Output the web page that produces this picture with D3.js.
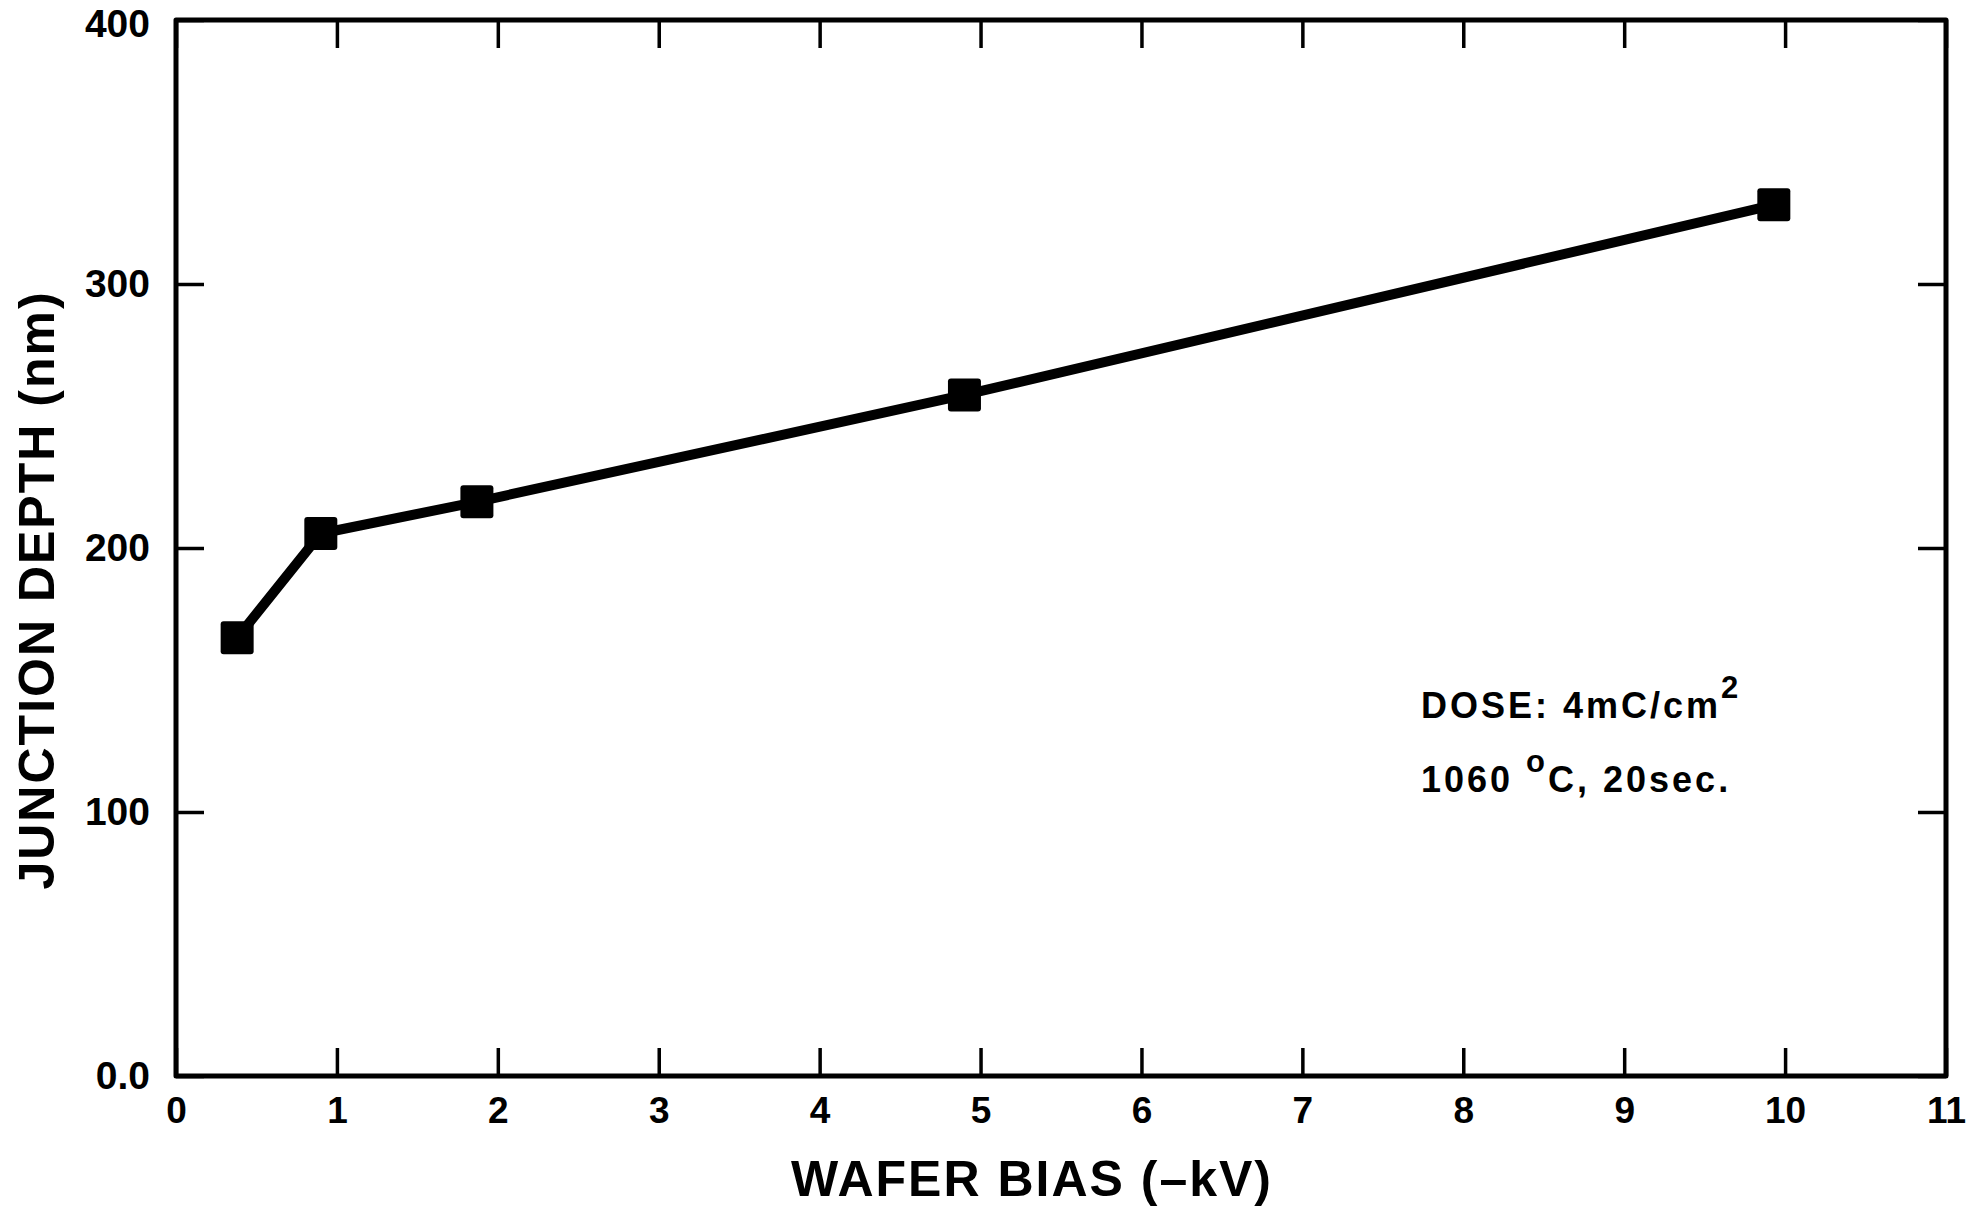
<!DOCTYPE html>
<head>
  <meta charset="utf-8">
  <script src="https://cdn.jsdelivr.net/npm/d3@7"></script>
  <style>
    body { margin: 0; background: #fff; }
    svg { display: block; }
    text { font-family: "Liberation Sans", Arial, Helvetica, sans-serif; font-weight: bold; fill: #000; }
  </style>
</head>
<body>
<svg></svg>
<script>
// values
var biasKV = [0.38, 0.9, 1.87, 4.9, 9.93]
var depthNm = [166, 205.5, 217.5, 258, 330]
var xTicks = d3.range(0, 12)
var yTicks = [0, 100, 200, 300, 400]
var yTickLabels = ['0.0', '100', '200', '300', '400']

var W = 1978, H = 1207
var box = {left: 176, right: 1946, top: 20, bottom: 1076}

var svg = d3.select('svg').attr('width', W).attr('height', H)

var x = d3.scaleLinear().domain([0, 11]).range([box.left, box.right])
var y = d3.scaleLinear().domain([0, 400]).range([box.bottom, box.top])

var tick = 28

// bottom axis with labels
var gx = svg.append('g')
  .attr('transform', 'translate(0,' + box.bottom + ')')
  .call(d3.axisBottom(x).tickValues(xTicks).tickSize(-tick).tickPadding(21).tickFormat(d3.format('d')))
gx.selectAll('text').style('font-size', '37px')

// left axis with labels
var gy = svg.append('g')
  .attr('transform', 'translate(' + box.left + ',0)')
  .call(d3.axisLeft(y).tickValues(yTicks).tickSize(-tick).tickPadding(26)
    .tickFormat(function (d, i) { return yTickLabels[i] }))
gy.selectAll('text').style('font-size', '39px')
gy.selectAll('.tick text').filter(function (d) { return d === 400 }).attr('dy', '0.42em')

// top + right: ticks only
svg.append('g')
  .attr('transform', 'translate(0,' + box.top + ')')
  .call(d3.axisTop(x).tickValues(xTicks).tickSize(-tick).tickFormat(''))
svg.append('g')
  .attr('transform', 'translate(' + box.right + ',0)')
  .call(d3.axisRight(y).tickValues(yTicks).tickSize(-tick).tickFormat(''))

svg.selectAll('.domain').remove()
svg.selectAll('.tick line').attr('stroke', '#000').attr('stroke-width', 3.5)

// frame
svg.append('rect')
  .attr('x', box.left).attr('y', box.top)
  .attr('width', box.right - box.left).attr('height', box.bottom - box.top)
  .attr('fill', 'none').attr('stroke', '#000').attr('stroke-width', 5)
  .attr('stroke-linejoin', 'round')

var pts = biasKV.map(function (v, i) { return [v, depthNm[i]] })

svg.append('path')
  .datum(pts)
  .attr('d', d3.line().x(function (d) { return x(d[0]) }).y(function (d) { return y(d[1]) }))
  .attr('fill', 'none').attr('stroke', '#000').attr('stroke-width', 10)
  .attr('stroke-linejoin', 'round')

var sz = 33
svg.selectAll('rect.pt').data(pts).enter().append('rect')
  .attr('class', 'pt')
  .attr('x', function (d) { return x(d[0]) - sz / 2 })
  .attr('y', function (d) { return y(d[1]) - sz / 2 })
  .attr('width', sz).attr('height', sz)
  .attr('rx', 3).attr('fill', '#000')

// axis titles
svg.append('text')
  .attr('x', 1032).attr('y', 1196)
  .attr('text-anchor', 'middle')
  .style('font-size', '50px').style('letter-spacing', '2px')
  .text('WAFER BIAS (\u2013kV)')

svg.append('text')
  .attr('transform', 'translate(54,590) rotate(-90)')
  .attr('text-anchor', 'middle')
  .style('font-size', '50px').style('letter-spacing', '2px')
  .text('JUNCTION DEPTH (nm)')

// annotation
var note = svg.append('g').style('font-size', '36px').style('letter-spacing', '3px')
var l1 = note.append('text').attr('x', 1421).attr('y', 718)
l1.append('tspan').text('DOSE: 4mC/cm')
l1.append('tspan').attr('dy', -20).style('font-size', '31px').text('2')
var l2 = note.append('text').attr('x', 1421).attr('y', 792)
l2.append('tspan').text('1060 ')
l2.append('tspan').attr('dy', -20).style('font-size', '31px').text('o')
l2.append('tspan').attr('dy', 20).text('C, 20sec.')
</script>
</body>
